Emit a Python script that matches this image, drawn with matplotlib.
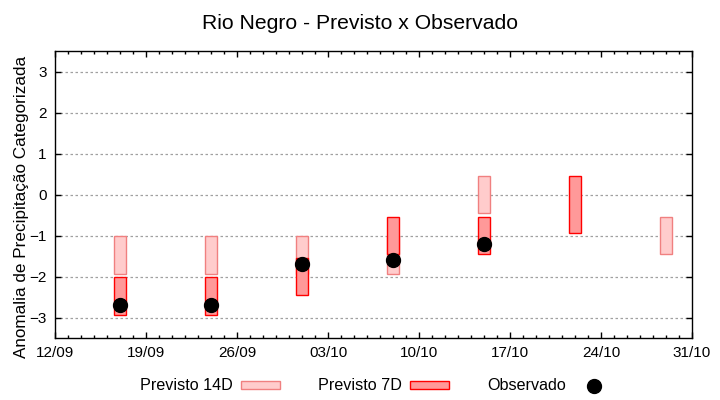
import numpy as np
import pandas as pd
import matplotlib
matplotlib.use('Agg')
import matplotlib.pyplot as plt
import matplotlib.dates as mdates
from matplotlib.patches import Patch
from matplotlib.lines import Line2D
from matplotlib.ticker import FixedLocator

plt.rcParams['font.family'] = ['Liberation Sans', 'DejaVu Sans']

# weekly forecast/observation dates
dates = pd.to_datetime(['2024-09-17', '2024-09-24', '2024-10-01', '2024-10-08',
                        '2024-10-15', '2024-10-22', '2024-10-29'])

# categorized precipitation anomaly ranges (top / bottom of each box)
prev14_top = [-1.0, -1.0, -1.0, -1.0, 0.45, np.nan, -0.55]
prev14_bot = [-1.95, -1.95, -1.95, -1.95, -0.45, np.nan, -1.45]
prev7_top = [-2.0, -2.0, -1.55, -0.55, -0.55, 0.45, np.nan]
prev7_bot = [-2.95, -2.95, -2.45, -1.45, -1.45, -0.95, np.nan]
observed = [-2.7, -2.7, -1.7, -1.6, -1.2, np.nan, np.nan]

x_start, x_end = pd.Timestamp('2024-09-12'), pd.Timestamp('2024-10-31')

fig = plt.figure(figsize=(7.2, 4.0), dpi=100)
ax = fig.add_axes([0.0764, 0.155, 0.8847, 0.7175])

h14 = np.array(prev14_top) - np.array(prev14_bot)
h7 = np.array(prev7_top) - np.array(prev7_bot)
ax.bar(dates, h14, bottom=prev14_bot, width=0.9, color='#ffcccc',
       edgecolor='#f08080', linewidth=1.0, zorder=2)
ax.bar(dates, h7, bottom=prev7_bot, width=0.9, color='#ff9999',
       edgecolor='#ff0000', linewidth=1.0, zorder=3)
ax.plot(dates, observed, 'o', color='black', markersize=10, zorder=4)

ax.set_xlim(x_start, x_end)
ax.set_ylim(-3.5, 3.5)
ax.set_yticks(range(-3, 4))
weekly = mdates.date2num(pd.date_range(x_start, x_end, freq='7D'))
ax.xaxis.set_major_locator(FixedLocator(weekly))
ax.xaxis.set_major_formatter(mdates.DateFormatter('%d/%m'))
ax.xaxis.set_minor_locator(mdates.DayLocator())

ax.grid(axis='y', linestyle=(0, (2, 2)), color='#a0a0a0', linewidth=0.9, zorder=1)
ax.set_axisbelow(True)
ax.tick_params(which='both', direction='in', top=True, right=True, labelsize=11, width=1.0)
ax.tick_params(which='major', length=4, pad=6)
ax.tick_params(which='minor', length=2)
for s in ax.spines.values():
    s.set_linewidth(1.0)

ax.set_ylabel('Anomalia de Precipitação Categorizada', fontsize=12.3)
ax.yaxis.set_label_coords(-0.041, 0.456)
fig.suptitle('Rio Negro - Previsto x Observado', fontsize=15.2, y=0.965)

handles = [Patch(facecolor='#ffcccc', edgecolor='#f08080', label='Previsto 14D'),
           Patch(facecolor='#ff9999', edgecolor='#ff0000', label='Previsto 7D'),
           Line2D([], [], marker='o', linestyle='none', color='black', markersize=10, label='Observado')]
fig.legend(handles=handles, loc='center', bbox_to_anchor=(0.523, 0.035), ncol=3,
           frameon=False, markerfirst=False, fontsize=11.6, handlelength=2.4,
           handleheight=0.4, handletextpad=0.5, columnspacing=2.4)

fig.savefig('out.png', dpi=100)
